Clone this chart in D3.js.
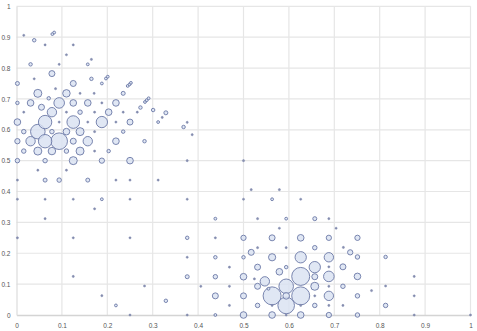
<!DOCTYPE html>
<html>
<head>
<meta charset="utf-8">
<script src="https://cdn.jsdelivr.net/npm/d3@7"></script>
<style>
html,body{margin:0;padding:0;background:#fff;}
svg{display:block;}
</style>
</head>
<body>
<svg id="chart" width="477" height="331"></svg>
<script>
// x values
const xValues = [
0.016,0.039,0.063,0.079,0.083,0.125,0.110,0.031,0.094,0.157,0.165,0.078,0.002,0.039,0.125,0.165,0.188,0.197,0.201,0.086,
0.140,0.171,0.047,0.110,0.235,0.245,0.249,0.252,0.071,0.031,0.094,0.125,0.157,0.188,0.219,0.273,0.283,0.287,0.291,0.301,
0.002,0.055,0.078,0.110,0.140,0.172,0.203,0.235,0.266,0.016,0.002,0.063,0.094,0.125,0.157,0.188,0.219,0.250,0.312,0.016,
0.047,0.078,0.110,0.140,0.172,0.235,0.002,0.031,0.063,0.094,0.125,0.157,0.219,0.282,0.016,0.047,0.078,0.110,0.140,0.172,
0.203,0.002,0.063,0.125,0.188,0.250,0.047,0.110,0.002,0.063,0.094,0.157,0.219,0.250,0.312,0.002,0.063,0.125,0.188,0.250,
0.172,0.063,0.002,0.125,0.250,0.125,0.188,0.219,0.250,0.282,0.329,0.321,0.376,0.368,0.387,0.376,0.500,
0.376,0.500,0.517,0.579,0.563,0.626,0.438,0.531,0.594,0.657,0.688,0.579,0.704,0.376,0.438,0.500,0.563,0.626,0.688,0.751,
0.531,0.594,0.657,0.720,0.517,0.735,0.376,0.438,0.500,0.563,0.626,0.688,0.751,0.813,0.469,0.531,0.594,0.657,0.688,0.719,
0.579,0.626,0.376,0.438,0.500,0.657,0.688,0.751,0.876,0.547,0.524,0.406,0.469,0.531,0.555,0.594,0.657,0.688,0.719,0.782,
0.813,0.329,0.438,0.500,0.563,0.594,0.626,0.657,0.688,0.751,0.876,0.469,0.531,0.563,0.594,0.626,0.657,0.688,0.719,0.813,
0.376,0.438,0.500,0.563,0.594,0.626,0.688,0.751,0.876,1.000
];
// y values
const yValues = [
0.906,0.890,0.875,0.910,0.915,0.875,0.843,0.812,0.812,0.812,0.828,0.782,0.750,0.765,0.750,0.765,0.750,0.766,0.772,0.733,
0.718,0.718,0.718,0.718,0.718,0.742,0.747,0.752,0.702,0.687,0.687,0.687,0.687,0.687,0.687,0.672,0.690,0.696,0.702,0.664,
0.687,0.673,0.657,0.657,0.657,0.657,0.657,0.657,0.657,0.657,0.625,0.625,0.625,0.625,0.625,0.625,0.625,0.625,0.625,0.594,
0.594,0.594,0.594,0.594,0.594,0.594,0.563,0.563,0.563,0.563,0.563,0.563,0.563,0.563,0.531,0.531,0.531,0.531,0.531,0.531,
0.531,0.500,0.500,0.500,0.500,0.500,0.469,0.469,0.437,0.437,0.437,0.437,0.437,0.437,0.437,0.375,0.375,0.375,0.375,0.375,
0.344,0.312,0.250,0.250,0.250,0.125,0.0625,0.031,0.000,0.094,0.655,0.640,0.624,0.609,0.584,0.500,0.500,
0.375,0.375,0.406,0.406,0.375,0.375,0.312,0.312,0.312,0.312,0.312,0.281,0.281,0.250,0.250,0.250,0.250,0.250,0.250,0.250,
0.218,0.218,0.218,0.219,0.203,0.203,0.187,0.187,0.187,0.187,0.187,0.187,0.188,0.188,0.155,0.155,0.155,0.155,0.156,0.156,
0.140,0.125,0.124,0.124,0.124,0.124,0.125,0.125,0.125,0.109,0.117,0.093,0.093,0.093,0.085,0.093,0.093,0.093,0.093,0.079,
0.094,0.046,0.062,0.062,0.062,0.062,0.062,0.062,0.062,0.062,0.062,0.031,0.031,0.031,0.031,0.031,0.031,0.031,0.031,0.031,
0.000,0.000,0.000,0.000,0.000,0.000,0.000,0.000,0.000,0.000
];
// bubble sizes
const sizeValues = [
1,3,1,2,2,1,1,3,1,2,1,9,4,1,9,3,2,2,2,1,
1,1,16,14,4,2,2,2,3,11,28,11,11,1,11,3,2,2,2,3,
3,9,22,1,5,1,11,1,1,1,11,45,1,40,1,32,1,9,2,5,
53,5,11,16,1,3,7,22,45,69,9,22,11,3,5,16,14,5,16,1,
3,5,5,16,7,11,1,1,1,4,5,4,1,1,1,1,1,1,2,1,
1,1,1,1,1,1,1,2,1,1,4,1,1,3,1,1,1,
1,1,1,1,2,1,2,1,2,4,1,1,1,3,1,7,9,11,7,7,
1,1,5,1,9,7,1,3,3,13,32,22,5,3,1,9,3,32,1,9,
11,81,4,5,11,9,28,11,1,22,1,1,1,9,2,53,16,1,5,1,
1,3,9,9,81,11,81,1,22,5,1,1,5,1,69,1,5,1,1,5,
1,2,11,11,1,11,7,5,1,1
];
const xTicks = [0,0.1,0.2,0.3,0.4,0.5,0.6,0.7,0.8,0.9,1];
const yTicks = [0,0.1,0.2,0.3,0.4,0.5,0.6,0.7,0.8,0.9,1];
const xTickLabels = ["0","0.1","0.2","0.3","0.4","0.5","0.6","0.7","0.8","0.9","1"];
const yTickLabels = ["0","0.1","0.2","0.3","0.4","0.5","0.6","0.7","0.8","0.9","1"];

const data = xValues.map((x,i)=>({x, y:yValues[i], s:sizeValues[i]}));

const svg = d3.select("#chart");
const x = d3.scaleLinear().domain([0,1]).range([16.5,470.5]);
const y = d3.scaleLinear().domain([0,1]).range([315,6.3]);
const r = d3.scaleSqrt().domain([0,81]).range([0,9]);

// grid
const grid = svg.append("g");
grid.selectAll("line.v").data(xTicks.slice(1)).enter().append("line")
  .attr("x1",d=>x(d)).attr("x2",d=>x(d)).attr("y1",y(1)).attr("y2",y(0))
  .attr("stroke","#e6e6e6").attr("stroke-width",1.2);
grid.selectAll("line.h").data(yTicks.slice(1)).enter().append("line")
  .attr("x1",x(0)).attr("x2",x(1)).attr("y1",d=>y(d)).attr("y2",d=>y(d))
  .attr("stroke","#e6e6e6").attr("stroke-width",1.2);

// axes
const xAxis = d3.axisBottom(x).tickValues(xTicks).tickSize(0).tickPadding(8)
  .tickFormat((d,i)=>xTickLabels[i]);
const yAxis = d3.axisLeft(y).tickValues(yTicks).tickSize(0).tickPadding(6)
  .tickFormat((d,i)=>yTickLabels[i]);
const gx = svg.append("g").attr("transform",`translate(0,${y(0)})`).call(xAxis);
const gy = svg.append("g").attr("transform",`translate(${x(0)},0)`).call(yAxis);
gx.select(".domain").attr("stroke","#d4d4d4").attr("stroke-width",1.6);
gy.select(".domain").attr("stroke","#dcdcdc").attr("stroke-width",1.2);
svg.selectAll(".tick text").attr("fill","#555").attr("font-size","6.5px")
  .attr("font-family","'Liberation Sans', Arial, sans-serif");

// bubbles (larger first so small on top)
const sorted = data.slice().sort((a,b)=>b.s-a.s);
svg.append("g").selectAll("circle").data(sorted).enter().append("circle")
  .attr("cx",d=>x(d.x)).attr("cy",d=>y(d.y))
  .attr("r",d=>d.s<=1 ? 1.1 : r(d.s))
  .attr("fill",d=>d.s<=1 ? "#8a8fae" : "#d8e1f1")
  .attr("fill-opacity",d=>d.s<=1 ? 1 : 0.8)
  .attr("stroke","#6b78a6")
  .attr("stroke-width",d=>d.s<=1 ? 0.4 : 0.9);
</script>
</body>
</html>
